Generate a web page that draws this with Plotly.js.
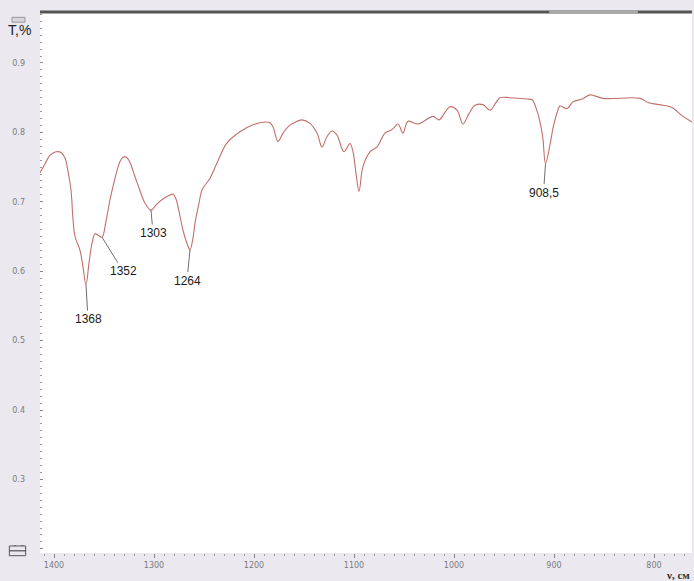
<!DOCTYPE html>
<html>
<head>
<meta charset="utf-8">
<script src="https://cdn.plot.ly/plotly-3.0.1.min.js"></script>
<style>
  html, body { margin: 0; padding: 0; background: #ebe9ef; }
  #chart { width: 694px; height: 581px; }
</style>
</head>
<body>
<div id="chart"></div>
<script>
// IR transmission spectrum, wavenumber (cm^-1) vs transmittance
const wavenumber = [
  1414, 1410, 1404, 1398, 1393, 1389, 1386, 1383, 1381, 1379,
  1374, 1371, 1368, 1365, 1362, 1359, 1356, 1352, 1348, 1344,
  1340, 1336, 1333, 1330, 1326, 1319, 1314, 1309, 1303, 1297,
  1291, 1285, 1281, 1278, 1276, 1271, 1267, 1264, 1261, 1259,
  1255, 1252, 1244, 1237, 1227, 1214, 1201, 1189, 1184, 1181,
  1176, 1171, 1166, 1161, 1152, 1144, 1137, 1132, 1127, 1122,
  1117, 1110, 1104, 1101, 1098, 1095, 1091, 1084, 1077, 1069,
  1062, 1056, 1051, 1046, 1036, 1021, 1015, 1008, 1004, 997,
  991, 985, 979, 971, 964, 958, 954, 944, 927, 922,
  917, 913, 911, 908.5, 904, 901, 897, 894, 887, 881,
  872, 864, 851, 814, 806, 791, 782, 771, 762
];
const transmittance = [
  0.742, 0.752, 0.767, 0.772, 0.771, 0.763, 0.744, 0.717, 0.675, 0.650,
  0.630, 0.606, 0.580, 0.612, 0.640, 0.654, 0.652, 0.649, 0.672, 0.703,
  0.728, 0.750, 0.761, 0.765, 0.762, 0.736, 0.716, 0.698, 0.688, 0.697,
  0.704, 0.709, 0.711, 0.704, 0.693, 0.659, 0.640, 0.631, 0.648, 0.669,
  0.698, 0.717, 0.734, 0.756, 0.785, 0.801, 0.811, 0.815, 0.814, 0.808,
  0.787, 0.799, 0.808, 0.813, 0.818, 0.813, 0.799, 0.779, 0.794, 0.802,
  0.796, 0.772, 0.784, 0.772, 0.741, 0.715, 0.751, 0.772, 0.779, 0.799,
  0.804, 0.812, 0.799, 0.816, 0.812, 0.823, 0.818, 0.831, 0.837, 0.832,
  0.812, 0.827, 0.839, 0.840, 0.832, 0.843, 0.850, 0.850, 0.848, 0.847,
  0.831, 0.808, 0.790, 0.755, 0.782, 0.806, 0.828, 0.838, 0.834, 0.844,
  0.848, 0.854, 0.849, 0.849, 0.843, 0.839, 0.836, 0.823, 0.815
];

// Labelled absorption bands
const peakWavenumber = [1368, 1352, 1303, 1264, 908.5];
const peakLabel = ['1368', '1352', '1303', '1264', '908,5'];

// Label placement (pixel offsets of each label from its band)
const labelOffsetX = [2, 21, 2, -3, -2];
const labelOffsetY = [34, 34, 23, 31, 29];

const annotations = peakWavenumber.map((wn, i) => ({
  x: wn,
  y: transmittance[wavenumber.indexOf(wn)],
  xref: 'x', yref: 'y',
  text: peakLabel[i],
  showarrow: true,
  arrowhead: 0,
  arrowwidth: 1,
  arrowcolor: '#6f6f6f',
  ax: labelOffsetX[i],
  ay: labelOffsetY[i],
  standoff: 0,
  font: { family: 'Liberation Sans, Arial, sans-serif', size: 12, color: '#1a1a1a' }
}));

// Axis captions
annotations.push({
  xref: 'paper', yref: 'paper', x: -0.052, y: 0.968,
  xanchor: 'left', yanchor: 'middle', showarrow: false,
  text: 'T,%',
  font: { family: 'Liberation Sans, Arial, sans-serif', size: 14, color: '#222' }
});
annotations.push({
  xref: 'paper', yref: 'paper', x: 1.0, y: -0.041,
  xanchor: 'right', yanchor: 'middle', showarrow: false,
  text: '<b>ν, см</b>',
  font: { family: 'Liberation Serif, Times New Roman, serif', size: 11, color: '#333' }
});

const trace = {
  x: wavenumber,
  y: transmittance,
  type: 'scatter',
  mode: 'lines',
  line: { color: '#c0706b', width: 1.1, shape: 'spline', smoothing: 1 },
  hoverinfo: 'x+y'
};

const tickFont = { family: 'DejaVu Sans, Verdana, sans-serif', size: 8, color: '#7a7a7a' };

const layout = {
  width: 694,
  height: 581,
  margin: { l: 40, r: 2, t: 13, b: 28, pad: 0 },
  paper_bgcolor: '#ebe9ef',
  plot_bgcolor: '#ffffff',
  showlegend: false,
  xaxis: {
    range: [1414, 762],
    tickvals: [1400, 1300, 1200, 1100, 1000, 900, 800],
    ticktext: ['1400', '1300', '1200', '1100', '1000', '900', '800'],
    ticks: 'outside',
    ticklen: 4,
    tickwidth: 1,
    tickcolor: '#888',
    tickfont: tickFont,
    showgrid: false,
    zeroline: false,
    showline: false,
    minor: { dtick: 10, tick0: 800, ticks: 'outside', ticklen: 1.5, tickwidth: 1, tickcolor: '#999', showgrid: false }
  },
  yaxis: {
    range: [0.194, 0.972],
    tickvals: [0.2, 0.3, 0.4, 0.5, 0.6, 0.7, 0.8, 0.9],
    ticktext: ['0.2', '0.3', '0.4', '0.5', '0.6', '0.7', '0.8', '0.9'],
    ticks: 'inside',
    ticklen: 3,
    tickwidth: 1,
    tickcolor: '#888',
    ticklabelstandoff: 14,
    tickfont: tickFont,
    showgrid: false,
    zeroline: false,
    showline: false,
    minor: { dtick: 0.01, tick0: 0.2, ticks: 'inside', ticklen: 1.5, tickwidth: 1, tickcolor: '#999', showgrid: false }
  },
  annotations: annotations,
  shapes: [
    // scroll bar across the top of the plot
    { type: 'line', xref: 'paper', yref: 'paper', x0: 0, x1: 1, y0: 1.002, y1: 1.002,
      line: { color: '#555', width: 3 } },
    { type: 'line', xref: 'paper', yref: 'paper', x0: 0.781, x1: 0.917, y0: 1.002, y1: 1.002,
      line: { color: '#aaa', width: 3 } },
    // small scale widgets in the corners
    { type: 'rect', xref: 'paper', yref: 'paper', x0: -0.043, x1: -0.023, y0: 0.992, y1: 0.983,
      line: { color: '#999', width: 1 }, fillcolor: '#d8d6dc' },
    { type: 'rect', xref: 'paper', yref: 'paper', x0: -0.047, x1: -0.022, y0: 0.013, y1: -0.005,
      line: { color: '#555', width: 1 }, fillcolor: '#ebe9ef' },
    { type: 'line', xref: 'paper', yref: 'paper', x0: -0.047, x1: -0.022, y0: 0.004, y1: 0.004,
      line: { color: '#333', width: 1 } }
  ]
};

Plotly.newPlot('chart', [trace], layout, { displayModeBar: false, staticPlot: true });
</script>
</body>
</html>
